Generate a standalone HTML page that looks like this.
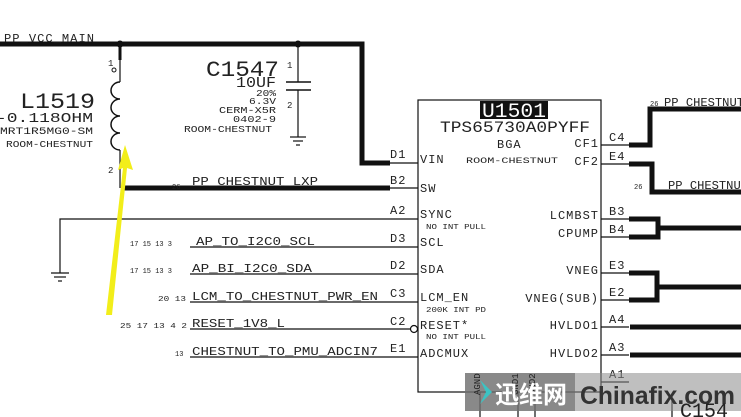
<!DOCTYPE html>
<html><head><style>
html,body{margin:0;padding:0;background:#fff;width:741px;height:417px;overflow:hidden}
svg text{font-family:"Liberation Mono",monospace;fill:#222}
</style></head><body>
<svg width="741" height="417" viewBox="0 0 741 417" xmlns="http://www.w3.org/2000/svg">
<g stroke="#111" fill="none">
<polyline points="0,44 362,44 362,163 390,163" stroke-width="5"/>
<circle cx="120" cy="44" r="3" fill="#111"/>
<circle cx="298" cy="44" r="3" fill="#111"/>
<line x1="120" y1="44" x2="120" y2="60" stroke-width="3"/>
<line x1="120" y1="60" x2="120" y2="82" stroke-width="1.2"/>
<path d="M120,82 a9,8.5 0 0 0 0,17 a9,8.5 0 0 0 0,17 a9,8.5 0 0 0 0,17 a9,8.5 0 0 0 0,17" stroke-width="1.5"/>
<line x1="120" y1="150" x2="120" y2="188" stroke-width="1.2"/>
<circle cx="114" cy="70" r="2" stroke-width="1"/>
<line x1="123" y1="188" x2="390" y2="188" stroke-width="5"/>
<line x1="298" y1="44" x2="298" y2="82" stroke-width="1.2"/>
<line x1="286" y1="82" x2="311" y2="82" stroke-width="1.5"/>
<line x1="286" y1="90" x2="311" y2="90" stroke-width="1.5"/>
<line x1="298" y1="90" x2="298" y2="137" stroke-width="1.2"/>
<line x1="290" y1="137" x2="306" y2="137" stroke-width="1.2"/>
<line x1="293" y1="141" x2="303" y2="141" stroke-width="1.2"/>
<line x1="296" y1="145" x2="300" y2="145" stroke-width="1.2"/>
<polyline points="60,273 60,219 418,219" stroke-width="1.2"/>
<line x1="51" y1="273" x2="69" y2="273" stroke-width="1.2"/>
<line x1="54" y1="277" x2="66" y2="277" stroke-width="1.2"/>
<line x1="58" y1="281" x2="62" y2="281" stroke-width="1.2"/>
<g stroke-width="1.2">
<line x1="390" y1="163" x2="418" y2="163"/>
<line x1="390" y1="188" x2="418" y2="188"/>
<line x1="190" y1="247" x2="418" y2="247"/>
<line x1="190" y1="274" x2="418" y2="274"/>
<line x1="190" y1="302" x2="418" y2="302"/>
<line x1="190" y1="329" x2="414" y2="329"/>
<line x1="190" y1="357" x2="418" y2="357"/>
</g>
<circle cx="414" cy="329" r="3.5" fill="#fff" stroke-width="1.2"/>
<rect x="418" y="100" width="183" height="292" stroke-width="1.2"/>
<g stroke-width="1.2">
<line x1="601" y1="145" x2="629" y2="145"/>
<line x1="601" y1="164" x2="629" y2="164"/>
<line x1="601" y1="219" x2="629" y2="219"/>
<line x1="601" y1="237" x2="629" y2="237"/>
<line x1="601" y1="273" x2="629" y2="273"/>
<line x1="601" y1="300" x2="629" y2="300"/>
<line x1="601" y1="327" x2="629" y2="327"/>
<line x1="601" y1="355" x2="629" y2="355"/>
<line x1="601" y1="382" x2="629" y2="382"/>
</g>
<g stroke-width="5">
<polyline points="629,145 650,145 650,109 741,109"/>
<polyline points="629,164 652,164 652,192 741,192"/>
<polyline points="629,219 658,219 658,237 629,237"/>
<line x1="658" y1="228" x2="741" y2="228"/>
<polyline points="629,273 657,273 657,300 629,300"/>
<line x1="657" y1="287" x2="741" y2="287"/>
<line x1="630" y1="327" x2="741" y2="327"/>
<line x1="630" y1="355" x2="741" y2="355"/>
</g>
<line x1="480" y1="392" x2="480" y2="417" stroke-width="1.2"/>
<line x1="518" y1="392" x2="518" y2="417" stroke-width="1.2"/>
<line x1="535" y1="392" x2="535" y2="417" stroke-width="1.2"/>
<line x1="672" y1="398" x2="672" y2="417" stroke-width="1.2"/>
</g>
<polygon points="125,145 118,170 123,168 106,315 112,315 127,168 133,170" fill="#f2ee1a"/>
<g font-size="12" letter-spacing="1">
<text x="4" y="42" textLength="91" lengthAdjust="spacingAndGlyphs">PP_VCC_MAIN</text>
<text x="390" y="158">D1</text>
<text x="390" y="184">B2</text>
<text x="390" y="214">A2</text>
<text x="390" y="242">D3</text>
<text x="390" y="269">D2</text>
<text x="390" y="297">C3</text>
<text x="390" y="325">C2</text>
<text x="390" y="352">E1</text>
<text x="420" y="163">VIN</text>
<text x="420" y="192">SW</text>
<text x="420" y="218">SYNC</text>
<text x="420" y="246">SCL</text>
<text x="420" y="273">SDA</text>
<text x="420" y="301">LCM_EN</text>
<text x="420" y="329">RESET*</text>
<text x="420" y="357">ADCMUX</text>
<text x="497" y="148">BGA</text>
<text x="599" y="147" text-anchor="end">CF1</text>
<text x="599" y="165" text-anchor="end">CF2</text>
<text x="599" y="219" text-anchor="end">LCMBST</text>
<text x="599" y="237" text-anchor="end">CPUMP</text>
<text x="599" y="274" text-anchor="end">VNEG</text>
<text x="599" y="302" text-anchor="end">VNEG(SUB)</text>
<text x="599" y="329" text-anchor="end">HVLDO1</text>
<text x="599" y="357" text-anchor="end">HVLDO2</text>
<text x="609" y="141">C4</text>
<text x="609" y="160">E4</text>
<text x="609" y="215">B3</text>
<text x="609" y="233">B4</text>
<text x="609" y="269">E3</text>
<text x="609" y="296">E2</text>
<text x="609" y="323">A4</text>
<text x="609" y="351">A3</text>
<text x="609" y="378">A1</text>
</g>
<g font-size="12">
<text x="196" y="245" textLength="119" lengthAdjust="spacingAndGlyphs">AP_TO_I2C0_SCL</text>
<text x="192" y="272" textLength="120" lengthAdjust="spacingAndGlyphs">AP_BI_I2C0_SDA</text>
<text x="192" y="300" textLength="186" lengthAdjust="spacingAndGlyphs">LCM_TO_CHESTNUT_PWR_EN</text>
<text x="192" y="327" textLength="93" lengthAdjust="spacingAndGlyphs">RESET_1V8_L</text>
<text x="192" y="355" textLength="186" lengthAdjust="spacingAndGlyphs">CHESTNUT_TO_PMU_ADCIN7</text>
<text x="192" y="185" textLength="126" lengthAdjust="spacingAndGlyphs">PP_CHESTNUT_LXP</text>
<text x="664" y="106" textLength="80" lengthAdjust="spacingAndGlyphs">PP_CHESTNUT</text>
<text x="668" y="189" textLength="80" lengthAdjust="spacingAndGlyphs">PP_CHESTNUT</text>
</g>
<g font-size="7">
<text x="172" y="189">26</text>
<text x="650" y="106">26</text>
<text x="634" y="189">26</text>
<text x="130" y="246" textLength="42" lengthAdjust="spacingAndGlyphs">17 15 13 3</text>
<text x="130" y="273" textLength="42" lengthAdjust="spacingAndGlyphs">17 15 13 3</text>
<text x="158" y="301" textLength="28" lengthAdjust="spacingAndGlyphs">20 13</text>
<text x="120" y="328" textLength="67" lengthAdjust="spacingAndGlyphs">25 17 13 4 2</text>
<text x="175" y="356">13</text>
<text x="426" y="229" textLength="60" lengthAdjust="spacingAndGlyphs">NO INT PULL</text>
<text x="426" y="312" textLength="60" lengthAdjust="spacingAndGlyphs">200K INT PD</text>
<text x="426" y="339" textLength="60" lengthAdjust="spacingAndGlyphs">NO INT PULL</text>
<text x="466" y="163" font-size="8" textLength="92" lengthAdjust="spacingAndGlyphs">ROOM-CHESTNUT</text>
</g>
<g font-size="9">
<text x="108" y="66">1</text>
<text x="108" y="173">2</text>
<text x="287" y="68">1</text>
<text x="287" y="108">2</text>
<text x="-4" y="122" font-size="14" textLength="97" lengthAdjust="spacingAndGlyphs">-0.118OHM</text>
<text x="0" y="134" font-size="10" textLength="93" lengthAdjust="spacingAndGlyphs">MRT1R5MG0-SM</text>
<text x="6" y="147" textLength="87" lengthAdjust="spacingAndGlyphs">ROOM-CHESTNUT</text>
<text x="256" y="96" textLength="20" lengthAdjust="spacingAndGlyphs">20%</text>
<text x="249" y="104" textLength="27" lengthAdjust="spacingAndGlyphs">6.3V</text>
<text x="219" y="113" textLength="57" lengthAdjust="spacingAndGlyphs">CERM-X5R</text>
<text x="233" y="122" textLength="43" lengthAdjust="spacingAndGlyphs">0402-9</text>
<text x="184" y="132" textLength="88" lengthAdjust="spacingAndGlyphs">ROOM-CHESTNUT</text>
</g>
<text x="20" y="108" font-size="22" textLength="75" lengthAdjust="spacingAndGlyphs">L1519</text>
<text x="206" y="76" font-size="22" textLength="73" lengthAdjust="spacingAndGlyphs">C1547</text>
<text x="236" y="87" font-size="15" textLength="40" lengthAdjust="spacingAndGlyphs">10UF</text>
<text x="440" y="132" font-size="16" textLength="150" lengthAdjust="spacingAndGlyphs">TPS65730A0PYFF</text>
<rect x="480" y="101" width="68" height="18" fill="#111"/>
<text x="482" y="117" font-size="20" textLength="64" lengthAdjust="spacingAndGlyphs" style="fill:#fff">U1501</text>
<rect x="465" y="373" width="276" height="38" fill="#8a8a8a" opacity="0.55"/>
<rect x="465" y="373" width="110" height="38" fill="#666" opacity="0.6"/>
<g font-size="9">
<text transform="translate(480,395) rotate(-90)">AGND</text>
<text transform="translate(518,395) rotate(-90)">GND1</text>
<text transform="translate(535,395) rotate(-90)">GND2</text>
</g>
<polygon points="480,380 492,392 480,404 486,392" fill="#3cc3c3"/>
<text x="495" y="403" font-size="24" style="fill:#fff;font-family:'Noto Sans CJK SC',sans-serif;font-weight:bold">迅维网</text>
<text x="580" y="404" font-size="25" textLength="155" lengthAdjust="spacingAndGlyphs" style="fill:#333;font-family:'Liberation Sans',sans-serif;font-weight:bold">Chinafix.com</text>
<text x="680" y="417" font-size="20">C154</text>
</svg>
</body></html>
